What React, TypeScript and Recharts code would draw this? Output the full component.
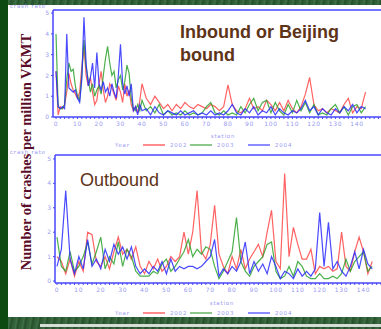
import React from 'react';
import { LineChart, Line, XAxis, YAxis, ReferenceLine } from 'recharts';

// station positions (dense at the start where the series are busy)
const stationsIn = [
  0, 1, 2, 3, 4, 5, 6, 7, 8, 9, 10, 11, 12, 13, 14, 15, 16, 17, 18, 19, 20,
  21, 22, 23, 24, 25, 26, 27, 28, 29, 30, 31, 32, 33, 34, 35, 36, 37, 38, 39, 40,
  42, 44, 46, 48, 50, 52, 54, 56, 58, 60, 62, 64, 66, 68, 70, 72, 74, 76, 78,
  80, 82, 84, 86, 88, 90, 92, 94, 96, 98, 100, 102, 104, 106, 108, 110, 112,
  114, 116, 118, 120, 122, 124, 126, 128, 130, 132, 134, 136, 138, 140, 142, 144,
];

const inbound2002 = [
  2.2, 0.1, 0.5, 0.4, 0.6, 1.2, 2.1, 1.6, 1.3, 1.1, 0.9, 1.2, 2.4, 3.4, 2.0, 1.5, 1.9, 1.2, 0.6, 0.8, 1.6,
  2.2, 1.3, 0.7, 1.0, 1.6, 1.4, 1.1, 0.8, 1.5, 1.2, 0.7, 1.6, 1.0, 1.3, 0.6, 0.3, 0.5, 0.2, 0.8, 1.6,
  0.9, 0.6, 1.0, 0.7, 0.4, 0.6, 0.3, 0.6, 0.4, 0.7, 0.5, 0.4, 0.6, 0.5, 0.4, 0.6, 0.5, 0.3, 0.5,
  1.55, 0.6, 0.3, 0.2, 0.4, 0.9, 0.4, 0.5, 0.3, 0.8, 0.6, 0.3, 0.7, 0.3, 0.8, 0.4, 0.2,
  0.5, 1.1, 1.9, 0.6, 0.3, 0.4, 0.2, 0.4, 0.3, 0.2, 0.6, 0.9, 0.2, 0.5, 0.4, 1.2,
];
const inbound2003 = [
  4.0, 0.5, 0.4, 0.4, 0.6, 1.8, 2.6, 2.2, 2.3, 1.5, 1.0, 0.8, 2.0, 3.7, 2.4, 1.8, 1.2, 1.6, 1.0, 1.3, 1.5,
  1.1, 2.0, 2.8, 3.4, 2.6, 2.0, 2.2, 1.4, 1.8, 2.0, 1.3, 1.7, 2.5, 2.1, 0.9, 0.4, 0.3, 0.6, 0.3, 0.8,
  0.3, 0.5, 0.2, 0.6, 0.1, 0.3, 0.1, 0.2, 0.1, 0.3, 0.1, 0.2, 0.1, 0.2, 0.5, 0.7, 0.2, 0.1, 0.3,
  0.1, 0.2, 0.1, 0.5, 0.2, 0.6, 0.9, 0.3, 0.7, 0.8, 0.2, 0.7, 0.3, 0.1, 0.6, 0.2, 0.8,
  0.3, 0.7, 0.2, 0.6, 0.1, 0.2, 0.1, 0.4, 0.6, 0.2, 0.5, 0.1, 0.5, 0.6, 0.2, 0.5,
];
const inbound2004 = [
  2.2, 0.5, 0.4, 0.5, 0.4, 4.0, 1.4, 1.3, 1.2, 1.3, 0.9, 0.7, 1.8, 4.8, 2.6, 1.5, 1.9, 2.6, 1.4, 3.1, 1.6,
  1.3, 1.7, 1.2, 1.4, 1.0, 1.6, 1.2, 0.9, 2.0, 3.5, 1.6, 1.1, 1.5, 1.0, 1.6, 0.3, 0.5, 0.1, 0.6, 0.3,
  0.4, 0.1, 0.5, 0.2, 0.1, 0.3, 0.2, 0.1, 0.3, 0.1, 0.2, 0.3, 0.1, 0.2, 0.1, 0.3, 0.1, 0.2, 0.1,
  0.3, 0.6, 0.2, 0.1, 0.4, 0.2, 0.5, 0.1, 0.3, 0.2, 0.5, 0.1, 0.4, 0.2, 0.1, 0.3, 0.2,
  0.4, 0.8, 0.3, 0.5, 0.1, 0.4, 0.2, 0.1, 0.4, 0.2, 0.5, 0.3, 0.6, 0.2, 0.5, 0.4,
];

const stationsOut = [
  0, 2, 4, 6, 8, 10, 12, 14, 16, 18, 20, 22, 24, 26, 28, 30, 32, 34, 36, 38,
  40, 42, 44, 46, 48, 50, 52, 54, 56, 58, 60, 62, 64, 66, 68, 70, 72, 74, 76, 78,
  80, 82, 84, 86, 88, 90, 92, 94, 96, 98, 100, 102, 104, 106, 108, 110, 112, 114, 116, 118,
  120, 122, 124, 126, 128, 130, 132, 134, 136, 138, 140, 142, 144,
];

const outbound2002 = [
  1.0, 0.8, 0.3, 0.9, 0.2, 0.8, 0.4, 2.0, 1.9, 0.8,
  0.6, 1.0, 0.5, 1.2, 1.8, 1.1, 1.3, 0.9, 1.4, 0.6,
  0.3, 0.8, 0.5, 0.9, 0.4, 0.6, 1.0, 0.8, 1.0, 2.0,
  1.1, 2.0, 3.7, 1.2, 0.9, 1.5, 3.1, 1.1, 0.6, 0.3,
  1.0, 0.5, 1.3, 0.5, 0.9, 1.2, 1.5, 1.0, 2.0, 2.9,
  0.8, 0.5, 4.4, 1.0, 2.2, 1.5, 0.9, 0.9, 1.3, 0.3,
  0.6, 0.5, 0.6, 0.4, 0.5, 2.0, 0.6, 0.4, 1.2, 1.8,
  1.2, 0.3, 0.8,
];
const outbound2003 = [
  1.8, 0.6, 0.4, 1.2, 0.4, 0.6, 1.0, 1.6, 0.7, 1.2,
  1.8, 0.5, 1.0, 0.7, 1.6, 0.6, 1.3, 1.0, 0.4, 0.2,
  0.2, 0.2, 0.4, 0.3, 0.7, 0.9, 0.4, 0.6, 0.9, 1.2,
  1.7, 1.0, 1.3, 1.1, 1.4, 1.3, 0.6, 0.1, 0.4, 0.8,
  1.2, 2.6, 0.8, 0.4, 0.2, 0.6, 0.8, 1.0, 1.5, 1.6,
  0.4, 0.1, 0.2, 0.6, 0.2, 0.8, 0.6, 0.2, 0.1, 0.1,
  0.3, 0.1, 0.1, 0.2, 0.1, 0.3, 0.9, 0.4, 0.8, 1.0,
  1.2, 0.4, 0.6,
];
const outbound2004 = [
  0.6, 1.3, 3.7, 0.9, 0.3, 1.0, 0.5, 1.7, 0.6, 0.9,
  0.5, 1.3, 0.8, 1.5, 1.1, 1.4, 0.9, 1.4, 0.6, 0.3,
  0.5, 0.3, 0.6, 0.4, 0.8, 0.3, 0.9, 0.4, 0.6, 0.5,
  0.6, 0.6, 0.5, 0.6, 0.8, 1.0, 1.7, 0.2, 0.5, 0.3,
  0.6, 0.4, 0.8, 1.6, 0.3, 0.8, 0.4, 0.7, 0.3, 1.0,
  0.6, 0.1, 0.4, 0.3, 0.1, 0.5, 0.2, 0.4, 0.2, 0.5,
  2.8, 0.6, 2.4, 0.5, 0.8, 0.4, 0.2, 0.6, 1.2, 0.5,
  1.3, 0.7, 0.5,
];

const years = ['2002', '2003', '2004'];
const xLabels = [0, 10, 20, 30, 40, 50, 60, 70, 80, 90, 100, 110, 120, 130, 140];
const yTicks = [0, 1, 2, 3, 4, 5];

const COLORS = ['#ff4646', '#2da22d', '#2a2aff'];
const LEGEND_COLORS = ['#ff8c8c', '#8cc88c', '#8c8cff'];
const AXIS = '#4646ff';
const TICK_TEXT = '#9a9af2';
const BROWN = '#5e3418';

// unlabeled minor ticks every 2 stations along the x axis
const minorTicks: number[] = [];
for (let s = 0; s <= 150; s += 2) minorTicks.push(s);

const inboundData = stationsIn.map((s, i) => ({
  station: s,
  y2002: inbound2002[i],
  y2003: inbound2003[i],
  y2004: inbound2004[i],
}));
const outboundData = stationsOut.map((s, i) => ({
  station: s,
  y2002: outbound2002[i],
  y2003: outbound2003[i],
  y2004: outbound2004[i],
}));

function XTick(props: any) {
  const { x, y, payload } = props;
  if (!xLabels.includes(payload.value)) return <g />;
  return (
    <text x={x} y={y} dy="0.71em" textAnchor="middle" fontSize={6} fill={TICK_TEXT}
      fontFamily="DejaVu Sans" letterSpacing={0.7}>
      {payload.value}
    </text>
  );
}

function YTick(props: any) {
  const { x, y, payload } = props;
  return (
    <text x={x} y={y} dy="0.35em" textAnchor="end" fontSize={6} fill={TICK_TEXT} fontFamily="DejaVu Sans">
      {payload.value}
    </text>
  );
}

interface PanelProps {
  data: typeof inboundData;
  top: number;
  height: number;
  leftMargin: number;
  xDomain: [number, number];
  yDomain: [number, number];
}

function Panel({ data, top, height, leftMargin, xDomain, yDomain }: PanelProps) {
  return (
    <div style={{ position: 'absolute', left: 0, top }}>
      <LineChart width={381} height={height} data={data}
        margin={{ top: 10, right: 0, bottom: 0, left: leftMargin }}>
        <XAxis
          dataKey="station"
          type="number"
          domain={xDomain}
          ticks={minorTicks}
          interval={0}
          allowDataOverflow
          height={13}
          tick={<XTick />}
          tickSize={2}
          tickMargin={3}
          tickLine={{ stroke: AXIS }}
          axisLine={{ stroke: AXIS, strokeWidth: 1.5 }}
        />
        <YAxis
          type="number"
          domain={yDomain}
          ticks={yTicks}
          interval={0}
          allowDataOverflow
          width={22}
          tick={<YTick />}
          tickSize={2}
          tickMargin={2}
          tickLine={{ stroke: AXIS }}
          axisLine={{ stroke: AXIS, strokeWidth: 1.5 }}
        />
        <ReferenceLine y={yDomain[1]} stroke={AXIS} strokeWidth={1.5} />
        {years.map((yr, i) => (
          <Line
            key={yr}
            type="linear"
            dataKey={'y' + yr}
            stroke={COLORS[i]}
            strokeWidth={1.2}
            strokeOpacity={0.85}
            dot={false}
            isAnimationActive={false}
          />
        ))}
      </LineChart>
    </div>
  );
}

function LegendRow({ y }: { y: number }) {
  const starts = [143, 190, 248];
  return (
    <g fontFamily="DejaVu Sans" fontSize={5.5} fill={TICK_TEXT} letterSpacing={0.8}>
      <text x={115} y={y + 2}>Year</text>
      {years.map((yr, i) => (
        <g key={yr}>
          <line x1={starts[i]} x2={starts[i] + 22} y1={y} y2={y} stroke={LEGEND_COLORS[i]} strokeWidth={2} />
          <text x={starts[i] + 27} y={y + 2}>{yr}</text>
        </g>
      ))}
    </g>
  );
}

export default function App() {
  return (
    <div style={{ position: 'absolute', left: 0, top: 0, width: 381, height: 329, overflow: 'hidden',
      background: 'repeating-linear-gradient(100deg, #2f5d36 0px, #3f7046 2px, #24502b 4px, #35643c 7px)' }}>
      <div style={{ position: 'absolute', left: 0, top: 0, width: 8, height: 329, background: '#0c4a12' }} />
      <div style={{ position: 'absolute', left: 40, top: 324, width: 341, height: 3, background: '#d6dcd6' }} />
      <div style={{ position: 'absolute', left: 8, top: 5, width: 373, height: 312, background: '#ffffff' }} />

      <Panel data={inboundData} top={0} height={130} leftMargin={31}
        xDomain={[-1.4, 151.2]} yDomain={[0, 5.15]} />
      <Panel data={outboundData} top={145} height={151} leftMargin={33}
        xDomain={[-0.9, 148]} yDomain={[-0.08, 5.16]} />

      <svg width={381} height={329} style={{ position: 'absolute', left: 0, top: 0, pointerEvents: 'none' }}>
        <text x={31} y={152} transform="rotate(-90 31 152)" textAnchor="middle"
          fontFamily="Liberation Serif" fontWeight="bold" fontSize={14.5} fill="#5a0c2a">
          Number of crashes per million VKMT
        </text>

        <g fontFamily="DejaVu Sans" fontSize={5.5} fill={TICK_TEXT} letterSpacing={0.8}>
          <text x={10} y={8}>crash rate</text>
          <text x={10} y={154}>crash rate</text>
          <text x={223} y={138} textAnchor="middle">station</text>
          <text x={222} y={305} textAnchor="middle">station</text>
        </g>
        <LegendRow y={145} />
        <LegendRow y={313} />

        <g fontFamily="Liberation Sans" fill={BROWN}>
          <text x={180} y={38} fontSize={18} fontWeight="bold">Inbound or Beijing</text>
          <text x={180} y={61} fontSize={18} fontWeight="bold">bound</text>
          <text x={80} y={186} fontSize={18}>Outbound</text>
        </g>
      </svg>
    </div>
  );
}
